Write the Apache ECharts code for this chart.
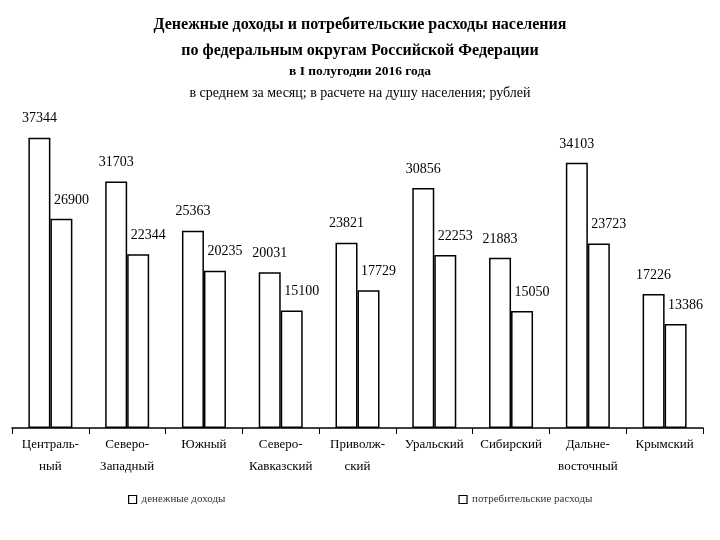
<!DOCTYPE html>
<html><head><meta charset="utf-8">
<script src="https://cdn.jsdelivr.net/npm/echarts@6/dist/echarts.min.js"></script>
<style>html,body{margin:0;padding:0;background:#fff}#c{width:720px;height:540px}</style>
</head><body><div id="c"></div>
<script>
const categories = ["Централь-\nный","Северо-\nЗападный","Южный","Северо-\nКавказский","Приволж-\nский","Уральский","Сибирский","Дальне-\nвосточный","Крымский"];
const income = [37344,31703,25363,20031,23821,30856,21883,34103,17226];
const expenses = [26900,22344,20235,15100,17729,22253,15050,23723,13386];
const seriesNames = ["денежные доходы","потребительские расходы"];
const F = "'Liberation Serif','DejaVu Serif',serif";
const chart = echarts.init(document.getElementById('c'));
chart.setOption({
  backgroundColor:'#fff',
  animation:false,
  title:[
    {text:'Денежные доходы и потребительские расходы населения',left:'center',top:12,textStyle:{fontFamily:F,fontSize:16,fontWeight:'bold',color:'#000'}},
    {text:'по федеральным округам Российской Федерации',left:'center',top:38,textStyle:{fontFamily:F,fontSize:16,fontWeight:'bold',color:'#000'}},
    {text:'в I полугодии 2016 года',left:'center',top:60,textStyle:{fontFamily:F,fontSize:13.5,fontWeight:'bold',color:'#000'}},
    {text:'в среднем за месяц; в расчете на душу населения; рублей',left:'center',top:81,textStyle:{fontFamily:F,fontSize:14,fontWeight:'normal',color:'#000'}}
  ],
  legend:{
    bottom:30, left:123, itemGap:233, itemWidth:8, itemHeight:8, icon:'rect',
    itemStyle:{color:'#fff',borderColor:'#000',borderWidth:1.2},
    textStyle:{fontFamily:F,fontSize:11,color:'#333'},
    data:seriesNames
  },
  grid:{left:12,right:17,top:117,bottom:112,containLabel:false},
  xAxis:{
    type:'category', data:categories,
    axisLine:{lineStyle:{color:'#000',width:1.5}},
    axisTick:{show:true,length:6,lineStyle:{color:'#000'}},
    axisLabel:{fontFamily:F,fontSize:13,color:'#000',lineHeight:22,margin:6,interval:0}
  },
  yAxis:{type:'value',min:0,max:40000,show:false,splitLine:{show:false}},
  series:[
    {name:seriesNames[0],type:'bar',data:income,barWidth:22,barGap:'0%',
     itemStyle:{color:'#fff',borderColor:'#000',borderWidth:1.5},
     label:{show:true,position:'top',distance:12,offset:[0,0],fontFamily:F,fontSize:14,color:'#000'}},
    {name:seriesNames[1],type:'bar',data:expenses,barWidth:22,
     itemStyle:{color:'#fff',borderColor:'#000',borderWidth:1.5},
     label:{show:true,position:'top',distance:12,offset:[10,0],fontFamily:F,fontSize:14,color:'#000'}}
  ]
});
</script></body></html>
